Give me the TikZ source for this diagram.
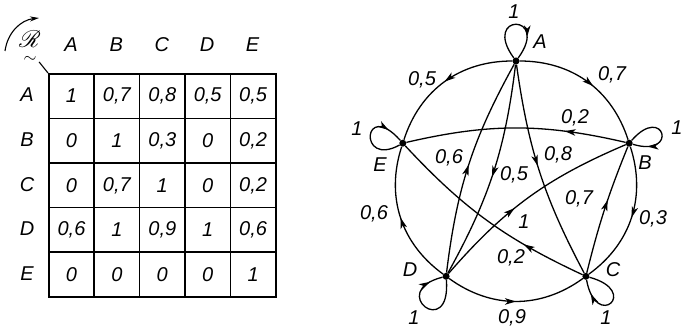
\documentclass[tikz,border=0pt]{standalone}
\usepackage{amsmath}
\usepackage{fontspec}
\setmainfont{Liberation Sans}
\usepackage{mathrsfs}
\usetikzlibrary{arrows.meta,decorations.markings}

\begin{document}
\begin{tikzpicture}[x=1pt,y=1pt,
  every node/.style={font=\fontsize{20}{22}\selectfont\itshape},
  vtx/.style={circle,fill=black,inner sep=0pt,minimum size=7pt},
  edge/.style={line width=1.3pt},
  midarrow/.style={postaction={decorate,decoration={markings,
      mark=at position #1 with {\arrow{Stealth[length=11pt,width=6.5pt,inset=3pt]}}}}},
  cell/.style={draw,line width=1.6pt,minimum width=45.4pt,minimum height=44.6pt,
      inner sep=0pt,anchor=north west},
  lbl/.style={inner sep=1pt}
]
\useasboundingbox (0,0) rectangle (683,332);

% ---------- matrix ----------
\node[inner sep=0pt] (R) at (30,284) {\scalebox{1.15}{$\underset{\sim}{\mathscr{R}}$}};
\foreach \t [count=\c] in {A,B,C,D,E}
  \node (h\c) at ({71+(\c-1)*45.4},287) {\t};
\foreach \t [count=\r] in {A,B,C,D,E}
  \node (r\r) at (27,{237-(\r-1)*44.6}) {\t};

\foreach \v [count=\c] in {1,{0,7},{0,8},{0,5},{0,5}}
  \node[cell] (m1\c) at ({48+(\c-1)*45.4},259) {\v};
\foreach \v [count=\c] in {0,1,{0,3},0,{0,2}}
  \node[cell] (m2\c) at ({48+(\c-1)*45.4},{259-44.6}) {\v};
\foreach \v [count=\c] in {0,{0,7},1,0,{0,2}}
  \node[cell] (m3\c) at ({48+(\c-1)*45.4},{259-2*44.6}) {\v};
\foreach \v [count=\c] in {{0,6},1,{0,9},1,{0,6}}
  \node[cell] (m4\c) at ({48+(\c-1)*45.4},{259-3*44.6}) {\v};
\foreach \v [count=\c] in {0,0,0,0,1}
  \node[cell] (m5\c) at ({48+(\c-1)*45.4},{259-4*44.6}) {\v};

\draw[line width=1.1pt] (R.south east) ++(-2,3) -- (m11.north west);
\coordinate (ra1) at (5,281);
\coordinate (ra2) at (39,314);
\draw[line width=1.1pt,-{Stealth[length=9pt,width=5pt]}] (ra1) to[bend left=38] (ra2);

% ---------- graph ----------
\node[vtx] (A) at (516,271) {};
\node[vtx] (B) at (629.2,188.8) {};
\node[vtx] (C) at (585.9,55.7) {};
\node[vtx] (D) at (446.1,55.7) {};
\node[vtx] (E) at (402.8,188.8) {};

% circle arcs
\draw[edge,midarrow=0.55] (A) to[bend left=36] (B);
\draw[edge,midarrow=0.5] (A) to[bend right=36] (E);
\draw[edge,midarrow=0.5] (B) to[bend left=36] (C);
\draw[edge,midarrow=0.5] (D) to[bend right=36] (C);
\draw[edge,midarrow=0.5] (D) to[bend left=36] (E);

% chords
\draw[edge,midarrow=0.47] (A) to[bend right=10] (C);
\draw[edge,midarrow=0.52] (A) to[bend left=11] (D);
\draw[edge,midarrow=0.5] (D) to[bend left=11] (A);
\draw[edge,midarrow=0.28] (B) to[bend right=13] (E);
\draw[edge,midarrow=0.3] (C) to[bend left=11] (E);
\draw[edge,midarrow=0.42] (D) to[bend left=13] (B);
\draw[edge,midarrow=0.57] (C) to[bend left=4] (B);

% loops
\draw[edge,midarrow=0.72] (A) .. controls +(-35,48) and +(35,48) .. (A);
\draw[edge,midarrow=0.8] (B) .. controls +(35,40) and +(50,-15) .. (B);
\draw[edge,midarrow=0.82] (C) .. controls +(55,-15) and +(10,-55) .. (C);
\draw[edge,midarrow=0.85] (D) .. controls +(5,-65) and +(-60,-15) .. (D);
\draw[edge,midarrow=0.8] (E) .. controls +(-45,-25) and +(-40,45) .. (E);

% vertex names
\node[lbl] (lA) at (540,290) {A};
\node[lbl] (lB) at (645,169) {B};
\node[lbl] (lC) at (613,62) {C};
\node[lbl] (lD) at (410,62) {D};
\node[lbl] (lE) at (380,167) {E};

% loop weights
\node[lbl] (wAA) at (514,320) {1};
\node[lbl] (wBB) at (677,204) {1};
\node[lbl] (wCC) at (606,14) {1};
\node[lbl] (wDD) at (414,14) {1};
\node[lbl] (wEE) at (357,203) {1};

% edge weights
\node[lbl] (wAE) at (422,252) {0,5};
\node[lbl] (wAB) at (612,257) {0,7};
\node[lbl] (wBE) at (575,214) {0,2};
\node[lbl] (wAC) at (558,177) {0,8};
\node[lbl] (wDA) at (449,174) {0,6};
\node[lbl] (wAD) at (514,157) {0,5};
\node[lbl] (wDB) at (524,110) {1};
\node[lbl] (wCB) at (579,133) {0,7};
\node[lbl] (wBC) at (653,113) {0,3};
\node[lbl] (wDE) at (374,118) {0,6};
\node[lbl] (wCE) at (511,74) {0,2};
\node[lbl] (wDC) at (512,14) {0,9};
\end{tikzpicture}
\end{document}
